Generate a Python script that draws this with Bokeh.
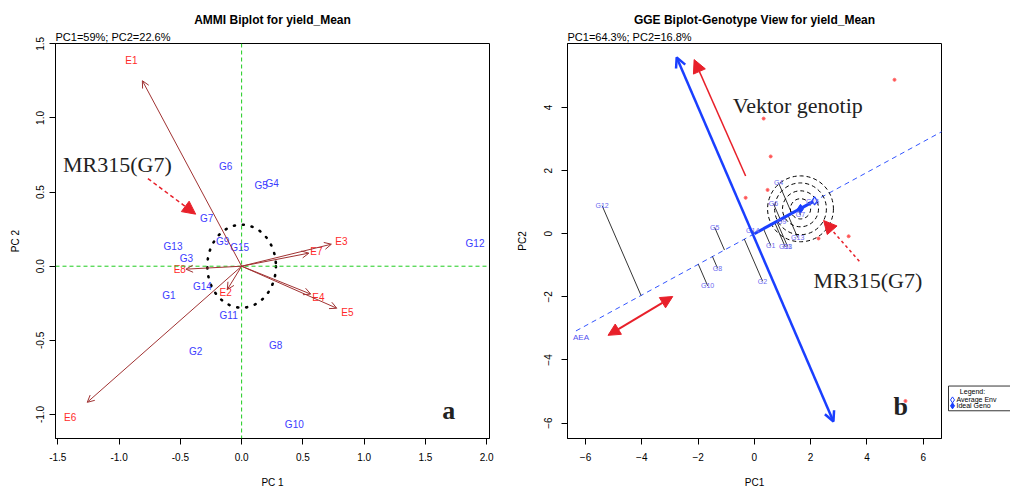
import numpy as np
from bokeh.plotting import figure
from bokeh.layouts import row
from bokeh.models import (Range1d, FixedTicker, NumeralTickFormatter, Arrow, OpenHead,
                          NormalHead, ColumnDataSource, Label, Span, Title)
from bokeh.embed import file_html
from bokeh.resources import INLINE
from bokeh.core.properties import value

SANS = "Liberation Sans"
SERIF = "Liberation Serif"

# ---------------- panel a : AMMI biplot ----------------
ammi_title = "AMMI Biplot for yield_Mean"
ammi_subtitle = "PC1=59%; PC2=22.6%"
ammi_xticks = [-1.5, -1.0, -0.5, 0.0, 0.5, 1.0, 1.5, 2.0]
ammi_yticks = [-1.0, -0.5, 0.0, 0.5, 1.0, 1.5]

genotypes = ["G1", "G2", "G3", "G4", "G5", "G6", "G7", "G8", "G9", "G10",
             "G11", "G12", "G13", "G14", "G15"]
ammi_gen_pc1 = [-0.594, -0.375, -0.45, 0.25, 0.16, -0.13, -0.285, 0.277, -0.155, 0.43,
                -0.106, 1.905, -0.56, -0.32, -0.016]
ammi_gen_pc2 = [-0.20, -0.575, 0.05, 0.56, 0.545, 0.67, 0.325, -0.535, 0.165, -1.07,
                -0.335, 0.15, 0.13, -0.135, 0.125]

environments = ["E1", "E2", "E3", "E4", "E5", "E6", "E7", "E8"]
ammi_env_pc1 = [-0.90, -0.13, 0.814, 0.627, 0.863, -1.40, 0.61, -0.505]
ammi_env_pc2 = [1.39, -0.175, 0.165, -0.209, -0.315, -1.02, 0.098, -0.022]
ammi_arrow_frac = 0.9
ammi_circle_r = 0.28

# annotations (panel a)
ammi_note_text = "MR315(G7)"
ammi_note_xy = [-1.458, 0.685]
ammi_note_arrow = [-0.765, 0.591, -0.375, 0.351]
ammi_panel_letter = "a"
ammi_letter_xy = [1.69, -0.97]

# ---------------- panel b : GGE biplot ----------------
gge_title = "GGE Biplot-Genotype View for yield_Mean"
gge_subtitle = "PC1=64.3%; PC2=16.8%"
gge_xticks = [-6, -4, -2, 0, 2, 4, 6]
gge_yticks = [-6, -4, -2, 0, 2, 4]

gge_gen_pc1 = [0.58, 0.29, 1.18, 0.86, -1.41, 0.68, 1.64, -1.31, 0.97, -1.66,
               1.10, -5.41, 1.54, -0.06, 2.07]
gge_gen_pc2 = [-0.37, -1.50, -0.40, 1.61, 0.20, 0.95, 0.60, -1.09, 0.39, -1.65,
               -0.42, 0.89, -0.12, 0.10, 1.03]
gge_env_pc1 = [4.98, 0.33, 0.58, 0.47, -0.31, 2.28, 3.35, 5.37]
gge_env_pc2 = [4.88, 3.65, 2.45, 1.39, 1.14, -0.15, -0.08, -5.30]

avg_env = [2.14, 1.04]
ideal_geno = [1.64, 0.79]
aea_x_ends = [-6.34, 6.9]
aea_label_xy = [-6.16, -3.28]
ato_pc1 = [-2.76, 2.81]
ato_pc2 = [5.59, -5.95]
circle_radii = [0.36, 0.64, 0.92, 1.17]

# annotations (panel b)
vektor_text = "Vektor genotip"
vektor_xy = [-0.77, 4.08]
vektor_arrow = [-0.31, 1.83, -2.14, 5.52]
gge_note_text = "MR315(G7)"
gge_note_xy = [2.10, -1.47]
gge_note_arrow = [3.73, -0.87, 2.46, 0.42]
double_arrow = [-5.2, -3.22, -2.9, -1.99]
gge_panel_letter = "b"
gge_letter_xy = [5.2, -5.48]

legend_title = "Legend:"
legend_items = ["Average Env", "Ideal Geno"]

RED = "#E8202A"
BROWN = "#A03232"
GREEN = "#1ECC1E"
BLUE = "#1A3FFF"
GBLUE = "#3C3CFF"
ERED = "#FF2A2A"


def style(p, xticks, yticks, fmt, xstand, ystand):
    p.xgrid.visible = False
    p.ygrid.visible = False
    p.outline_line_color = "black"
    p.outline_line_width = 1
    p.outline_line_alpha = 1
    p.background_fill_color = "white"
    p.border_fill_color = "white"
    p.xaxis.ticker = FixedTicker(ticks=xticks)
    p.yaxis.ticker = FixedTicker(ticks=yticks)
    if fmt is not None:
        p.xaxis.formatter = NumeralTickFormatter(format=fmt)
        p.yaxis.formatter = NumeralTickFormatter(format=fmt)
    for ax in (p.xaxis[0], p.yaxis[0]):
        ax.major_tick_out = 6
        ax.major_tick_in = 0
        ax.minor_tick_out = 0
        ax.minor_tick_in = 0
        ax.axis_line_color = "black"
        ax.major_tick_line_color = "black"
        ax.major_label_text_font = SANS
        ax.major_label_text_font_size = "10px"
        ax.major_label_text_color = "black"
        ax.axis_label_text_font = SANS
        ax.axis_label_text_font_size = "10px"
        ax.axis_label_text_font_style = "normal"
        ax.axis_label_text_color = "black"
    p.xaxis.major_label_standoff = xstand[0]
    p.xaxis.axis_label_standoff = xstand[1]
    p.yaxis.major_label_standoff = ystand[0]
    p.yaxis.axis_label_standoff = ystand[1]
    p.yaxis.major_label_orientation = "parallel"


def titles(p, title, subtitle):
    p.add_layout(Title(text=subtitle, align="left", text_font=SANS, text_font_size="11px",
                       text_font_style="normal", text_color="black", standoff=1), "above")
    p.add_layout(Title(text=title, align="center", text_font=SANS, text_font_size="12px",
                       text_font_style="bold", text_color="black", standoff=3), "above")


# ================= panel a =================
p1 = figure(width=508, height=490, x_range=Range1d(-1.519, 2.023), y_range=Range1d(-1.162, 1.502),
            output_backend="svg", toolbar_location=None, title=None,
            min_border_left=55, min_border_right=19, min_border_top=43, min_border_bottom=48)
style(p1, ammi_xticks, ammi_yticks, "0.0", (8, 13), (5, 13))
p1.xaxis.axis_label = "PC 1"
p1.yaxis.axis_label = "PC 2"
titles(p1, ammi_title, ammi_subtitle)

p1.add_layout(Span(location=0, dimension="height", line_color=GREEN, line_dash="4 3", line_width=1))
p1.add_layout(Span(location=0, dimension="width", line_color=GREEN, line_dash="4 3", line_width=1))

p1.ellipse(x=[0], y=[0], width=[2 * ammi_circle_r], height=[2 * ammi_circle_r],
           fill_color=None, line_color="black", line_width=2.6, line_dash="1 8", line_cap="round")

env_src = ColumnDataSource(dict(
    x0=[0.0] * len(environments), y0=[0.0] * len(environments),
    x1=[v * ammi_arrow_frac for v in ammi_env_pc1],
    y1=[v * ammi_arrow_frac for v in ammi_env_pc2]))
p1.add_layout(Arrow(end=OpenHead(size=7, line_color=BROWN, line_width=1), source=env_src,
                    x_start="x0", y_start="y0", x_end="x1", y_end="y1",
                    line_color=BROWN, line_width=1))

p1.text(x=ammi_gen_pc1, y=ammi_gen_pc2, text=genotypes, text_font=value(SANS),
        text_font_size="10px", text_color=GBLUE, text_align="center", text_baseline="middle")
p1.text(x=ammi_env_pc1, y=ammi_env_pc2, text=environments, text_font=value(SANS),
        text_font_size="10px", text_color=ERED, text_align="center", text_baseline="middle")

p1.add_layout(Label(x=ammi_note_xy[0], y=ammi_note_xy[1], text=ammi_note_text, text_font=SERIF,
                    text_font_size="22px", text_color="#222222", text_baseline="middle"))
p1.add_layout(Arrow(end=NormalHead(size=13, fill_color=RED, line_color=RED),
                    x_start=ammi_note_arrow[0], y_start=ammi_note_arrow[1],
                    x_end=ammi_note_arrow[2], y_end=ammi_note_arrow[3],
                    line_color=RED, line_width=1.5, line_dash="4 3"))
p1.add_layout(Label(x=ammi_letter_xy[0], y=ammi_letter_xy[1], text=ammi_panel_letter,
                    text_font=SERIF, text_font_size="26px", text_font_style="bold",
                    text_color="#222222", text_align="center", text_baseline="middle"))

# ================= panel b =================
p2 = figure(width=437, height=490, x_range=Range1d(-6.64, 6.65), y_range=Range1d(-6.49, 6.03),
            output_backend="svg", toolbar_location=None, title=None,
            min_border_left=59, min_border_right=4, min_border_top=43, min_border_bottom=48)
style(p2, gge_xticks, gge_yticks, None, (8, 13), (9, 14))
p2.xaxis.axis_label = "PC1"
p2.yaxis.axis_label = "PC2"
titles(p2, gge_title, gge_subtitle)

# AEA abscissa (dashed)
slope = avg_env[1] / avg_env[0]
p2.line(x=aea_x_ends, y=[slope * v for v in aea_x_ends], line_color="#3355FF",
        line_dash="5 4", line_width=1)

# projections of genotypes onto AEA
u = np.array(avg_env) / np.linalg.norm(avg_env)
g = np.column_stack([gge_gen_pc1, gge_gen_pc2])
t = g @ u
feet = np.outer(t, u)
p2.segment(x0=g[:, 0], y0=g[:, 1], x1=feet[:, 0], y1=feet[:, 1], line_color="black", line_width=0.8)

# concentric circles around ideal genotype
p2.circle(x=[ideal_geno[0]] * len(circle_radii), y=[ideal_geno[1]] * len(circle_radii),
          radius=circle_radii, fill_color=None, line_color="black", line_dash="4 3", line_width=1)

# AEA arrow (thick) from origin to average environment
p2.line(x=[0, avg_env[0]], y=[0, avg_env[1]], line_color=BLUE, line_width=3)

# ordinate with two heads
p2.add_layout(Arrow(start=OpenHead(size=10, line_color=BLUE, line_width=2.5),
                    end=OpenHead(size=10, line_color=BLUE, line_width=2.5),
                    x_start=ato_pc1[0], y_start=ato_pc2[0], x_end=ato_pc1[1], y_end=ato_pc2[1],
                    line_color=BLUE, line_width=2.5))

p2.scatter(x=gge_env_pc1, y=gge_env_pc2, marker="circle", size=3, fill_color="#FF5050",
           line_color="#FF7070")
p2.scatter(x=[avg_env[0]], y=[avg_env[1]], marker="diamond", size=8, fill_color="white",
           line_color=BLUE, line_width=1.2)
p2.scatter(x=[ideal_geno[0]], y=[ideal_geno[1]], marker="diamond", size=9, fill_color=BLUE,
           line_color=BLUE)

p2.text(x=gge_gen_pc1, y=gge_gen_pc2, text=genotypes, text_font=value(SANS),
        text_font_size="7px", text_color="#6A6AF0", text_align="center", text_baseline="middle")
p2.text(x=[aea_label_xy[0]], y=[aea_label_xy[1]], text=["AEA"], text_font=value(SANS),
        text_font_size="8px", text_color="#5050F0", text_align="center", text_baseline="middle")

# red annotations
p2.add_layout(Arrow(end=NormalHead(size=13, fill_color=RED, line_color=RED),
                    x_start=vektor_arrow[0], y_start=vektor_arrow[1],
                    x_end=vektor_arrow[2], y_end=vektor_arrow[3], line_color=RED, line_width=1.5))
p2.add_layout(Label(x=vektor_xy[0], y=vektor_xy[1], text=vektor_text, text_font=SERIF,
                    text_font_size="22px", text_color="#222222", text_baseline="middle"))
p2.add_layout(Arrow(end=NormalHead(size=13, fill_color=RED, line_color=RED),
                    x_start=gge_note_arrow[0], y_start=gge_note_arrow[1],
                    x_end=gge_note_arrow[2], y_end=gge_note_arrow[3],
                    line_color=RED, line_width=1.5, line_dash="3 3"))
p2.add_layout(Label(x=gge_note_xy[0], y=gge_note_xy[1], text=gge_note_text, text_font=SERIF,
                    text_font_size="22px", text_color="#222222", text_baseline="middle"))
p2.add_layout(Arrow(start=NormalHead(size=12, fill_color=RED, line_color=RED),
                    end=NormalHead(size=12, fill_color=RED, line_color=RED),
                    x_start=double_arrow[0], y_start=double_arrow[1],
                    x_end=double_arrow[2], y_end=double_arrow[3], line_color=RED, line_width=2))
p2.add_layout(Label(x=gge_letter_xy[0], y=gge_letter_xy[1], text=gge_panel_letter,
                    text_font=SERIF, text_font_size="26px", text_font_style="bold",
                    text_color="#222222", text_align="center", text_baseline="middle"))

# ================= legend strip =================
# the row aligns this strip's frame with the other two frames (page y 43..442),
# so its y range is chosen to read directly as page pixels, downward
p3 = figure(width=65, height=490, x_range=Range1d(0, 65), y_range=Range1d(442, 43),
            output_backend="svg", toolbar_location=None, title=None,
            x_axis_type=None, y_axis_type=None, min_border=0)
p3.xgrid.visible = False
p3.ygrid.visible = False
p3.outline_line_color = None
p3.quad(left=[3], right=[90], top=[389], bottom=[414], fill_color="white",
        line_color="black", line_width=0.8)
p3.text(x=[27], y=[395], text=[legend_title], text_font=value(SANS), text_font_size="7px",
        text_color="black", text_align="center", text_baseline="middle")
p3.scatter(x=[7], y=[403], marker="diamond", size=6, fill_color="white", line_color=BLUE,
           line_width=1)
p3.scatter(x=[7], y=[409], marker="diamond", size=6, fill_color=BLUE, line_color=BLUE)
p3.text(x=[11, 11], y=[403, 409], text=legend_items, text_font=value(SANS),
        text_font_size="7px", text_color="black", text_align="left", text_baseline="middle")

layout = row(p1, p2, p3)
open("out.html", "w").write(file_html(layout, INLINE))
